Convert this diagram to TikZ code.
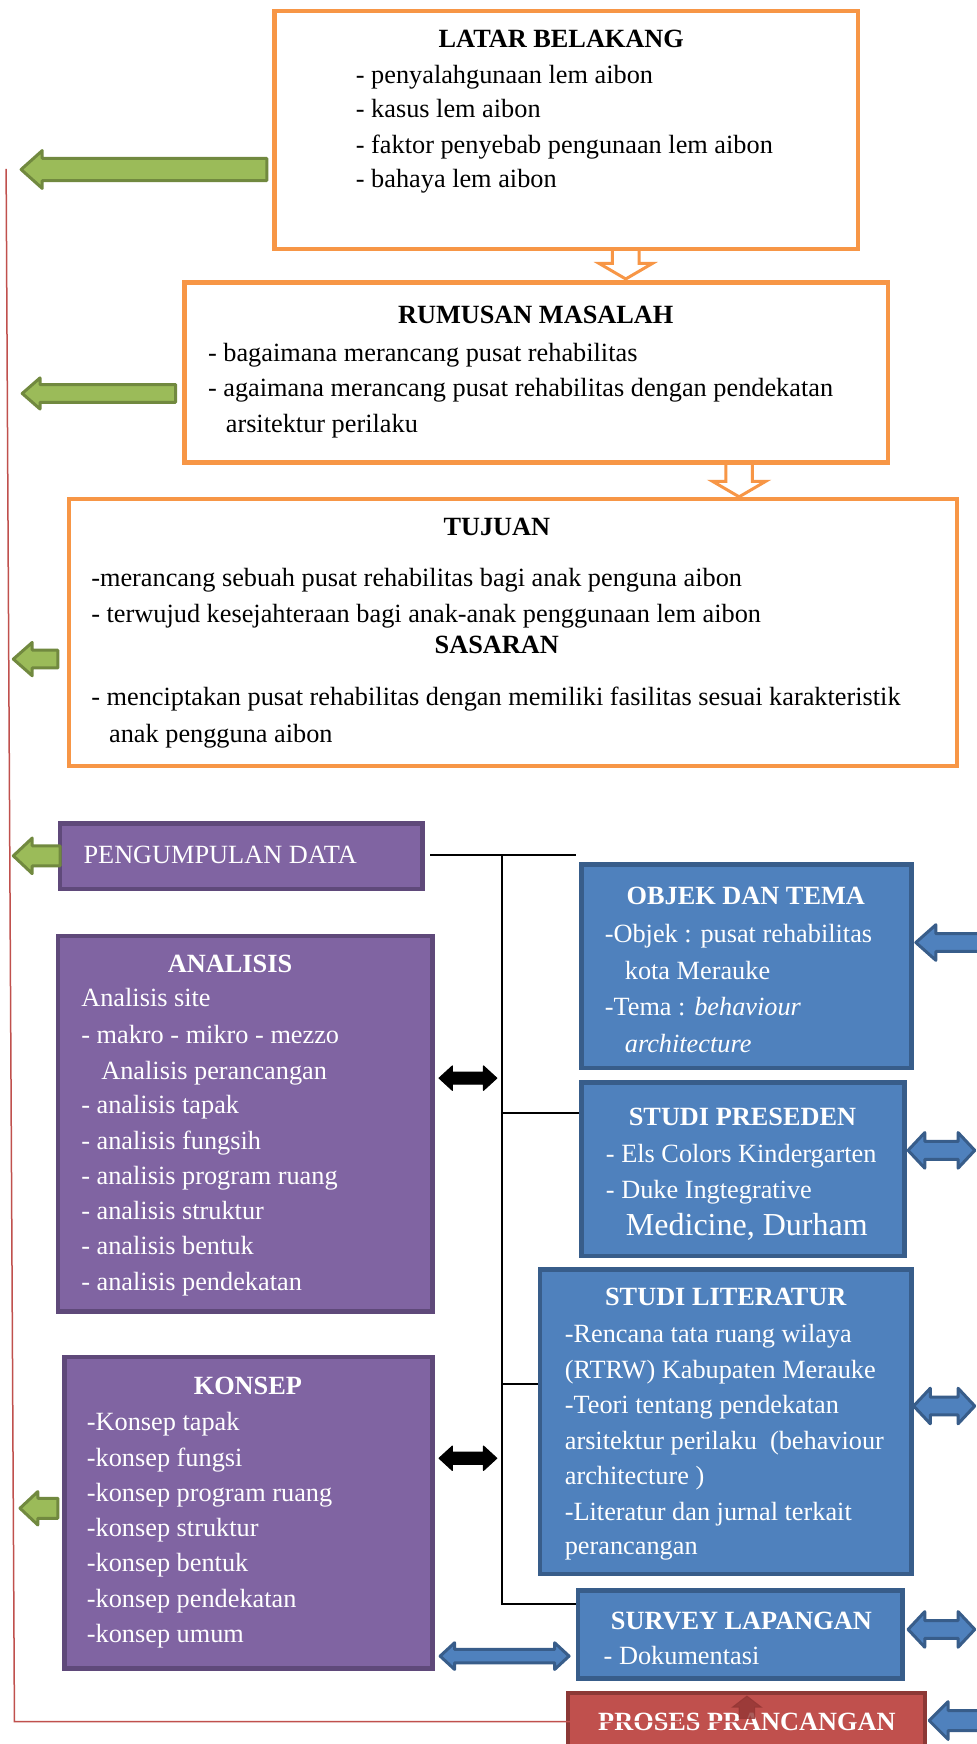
\documentclass[tikz,border=0pt]{standalone}
\usepackage{fontspec}
\setmainfont{Liberation Serif}
\usetikzlibrary{fit}
\definecolor{orgB}{HTML}{F79646}
\definecolor{purF}{HTML}{8064A2}
\definecolor{purB}{HTML}{5F497A}
\definecolor{bluF}{HTML}{4F81BD}
\definecolor{bluB}{HTML}{385D8A}
\definecolor{redF}{HTML}{C0504D}
\definecolor{redB}{HTML}{8C3836}
\definecolor{grnF}{HTML}{9BBB59}
\definecolor{grnB}{HTML}{71893F}
\definecolor{hseF}{HTML}{943634}
% left arrow: style, tipx, tailx, y, headhalf, shafthalf, headlen
\newcommand\LArr[7]{\filldraw[#1] (#2,#4) -- ({#2+#7},{#4-#5}) -- ({#2+#7},{#4-#6}) -- (#3,{#4-#6}) -- (#3,{#4+#6}) -- ({#2+#7},{#4+#6}) -- ({#2+#7},{#4+#5}) -- cycle;}
% double arrow: style, x1, x2, y, headhalf, shafthalf, headlen
\newcommand\DArr[7]{\filldraw[#1] (#2,#4) -- ({#2+#7},{#4-#5}) -- ({#2+#7},{#4-#6}) -- ({#3-#7},{#4-#6}) -- ({#3-#7},{#4-#5}) -- (#3,#4) -- ({#3-#7},{#4+#5}) -- ({#3-#7},{#4+#6}) -- ({#2+#7},{#4+#6}) -- ({#2+#7},{#4+#5}) -- cycle;}
% down arrow: style, x, top, bottom, headhalf, shafthalf, headstart
\newcommand\DnArr[7]{\filldraw[#1] ({#2-#6},#3) -- ({#2+#6},#3) -- ({#2+#6},#7) -- ({#2+#5},#7) -- (#2,#4) -- ({#2-#5},#7) -- ({#2-#6},#7) -- cycle;}
% up arrow: style, x, top, bottom, headhalf, shafthalf, headend
\newcommand\UpArr[7]{\filldraw[#1] (#2,#3) -- ({#2+#5},#7) -- ({#2+#6},#7) -- ({#2+#6},#4) -- ({#2-#6},#4) -- ({#2-#6},#7) -- ({#2-#5},#7) -- cycle;}
\begin{document}
\begin{tikzpicture}[x=1.1115pt,y=-1.1115pt,
  font=\fontsize{26.3}{30}\selectfont,
  ob/.style={draw=orgB,line width=4.5pt,fill=white,inner sep=0pt},
  pb/.style={draw=purB,fill=purF,line width=4.5pt,inner sep=0pt},
  bb/.style={draw=bluB,fill=bluF,line width=4.5pt,inner sep=0pt},
  rb/.style={draw=redB,fill=redF,line width=4.5pt,inner sep=0pt},
  tx/.style={anchor=base west,inner sep=0pt},
  ttl/.style={anchor=base,inner sep=0pt,font=\fontsize{26.3}{30}\selectfont\bfseries},
  wt/.style={text=white},
  conn/.style={draw=black,line width=2pt},
  grn/.style={fill=grnF,draw=grnB,line width=3pt,line join=round},
  blk/.style={fill=black,draw=black,line width=1pt,line join=round},
  blu/.style={fill=bluF,draw=bluB,line width=3pt,line join=round},
  oarr/.style={fill=white,draw=orgB,line width=3pt,line join=miter},
  redline/.style={draw=redF,line width=1.5pt}]
\clip (0,0) rectangle (879,1569.1);
\fill[white] (0,0) rectangle (879,1569.1);

% ---------- orange down arrows ----------
\DnArr{oarr}{563}{224}{251}{24}{12}{237}
\DnArr{oarr}{665}{417}{447}{24}{12}{433}

% ---------- orange boxes ----------
\node[ob,fit={(247,10) (772,224)}] (lb) {};
\node[ttl] (lbT) at (505,43) {LATAR BELAKANG};
\node[tx] (lb1) at (320,75) {- penyalahgunaan lem aibon};
\node[tx] (lb2) at (320,106) {- kasus lem aibon};
\node[tx] (lb3) at (320,138) {- faktor penyebab pengunaan lem aibon};
\node[tx] (lb4) at (320,169) {- bahaya lem aibon};

\node[ob,fit={(166,254) (799,416)}] (rm) {};
\node[ttl] (rmT) at (482,291) {RUMUSAN MASALAH};
\node[tx] (rm1) at (187,325) {- bagaimana merancang pusat rehabilitas};
\node[tx] (rm2) at (187,357) {- agaimana merancang pusat rehabilitas dengan pendekatan};
\node[tx] (rm3) at (203,389) {arsitektur perilaku};

\node[ob,fit={(62,449) (861,689)}] (tj) {};
\node[ttl] (tjT) at (447,482) {TUJUAN};
\node[tx] (tj1) at (82,528) {-merancang sebuah pusat rehabilitas bagi anak penguna aibon};
\node[tx] (tj2) at (82,560) {- terwujud kesejahteraan bagi anak-anak penggunaan lem aibon};
\node[ttl] (ssT) at (447,588) {SASARAN};
\node[tx] (ss1) at (82,635) {- menciptakan pusat rehabilitas dengan memiliki fasilitas sesuai karakteristik};
\node[tx] (ss2) at (98,668) {anak pengguna aibon};

% ---------- purple boxes ----------
\node[pb,fit={(54,741) (380,800)}] (pd) {};
\node[tx,wt] (pdT) at (75,777) {PENGUMPULAN DATA};

\node[pb,fit={(52,842) (389,1180)}] (an) {};
\node[ttl,wt] (anT) at (207,875) {ANALISIS};
\node[tx,wt] (an1) at (73,906) {Analisis site};
\node[tx,wt] (an2) at (73,939) {- makro - mikro - mezzo};
\node[tx,wt] (an3) at (91,971) {Analisis perancangan};
\node[tx,wt] (an4) at (73,1002) {- analisis tapak};
\node[tx,wt] (an5) at (73,1034) {- analisis fungsih};
\node[tx,wt] (an6) at (73,1066) {- analisis program ruang};
\node[tx,wt] (an7) at (73,1097) {- analisis struktur};
\node[tx,wt] (an8) at (73,1129) {- analisis bentuk};
\node[tx,wt] (an9) at (73,1161) {- analisis pendekatan};

\node[pb,fit={(58,1221) (389,1501)}] (ks) {};
\node[ttl,wt] (ksT) at (223,1255) {KONSEP};
\node[tx,wt] (ks1) at (78,1287) {-Konsep tapak};
\node[tx,wt] (ks2) at (78,1319) {-konsep fungsi};
\node[tx,wt] (ks3) at (78,1351) {-konsep program ruang};
\node[tx,wt] (ks4) at (78,1382) {-konsep struktur};
\node[tx,wt] (ks5) at (78,1414) {-konsep bentuk};
\node[tx,wt] (ks6) at (78,1446) {-konsep pendekatan};
\node[tx,wt] (ks7) at (78,1478) {-konsep umum};

% ---------- blue boxes ----------
\node[bb,fit={(523,778) (820,961)}] (ob) {};
\node[ttl,wt] (obT) at (671,814) {OBJEK DAN TEMA};
\node[tx,wt] (ob1) at (544,848) {-Objek : pusat rehabilitas};
\node[tx,wt] (ob2) at (562,881) {kota Merauke};
\node[tx,wt] (ob3) at (544,914) {-Tema : \textit{behaviour}};
\node[tx,wt] (ob4) at (562,947) {\textit{architecture}};

\node[bb,fit={(523,974) (814,1130)}] (sp) {};
\node[ttl,wt] (spT) at (668,1013) {STUDI PRESEDEN};
\node[tx,wt] (sp1) at (545,1046) {- Els Colors Kindergarten};
\node[tx,wt] (sp2) at (545,1078) {- Duke Ingtegrative};
\node[tx,wt,font=\fontsize{32}{36}\selectfont] (sp3) at (563,1112) {Medicine, Durham};

\node[bb,fit={(486,1142) (820,1416)}] (sl) {};
\node[ttl,wt] (slT) at (653,1175) {STUDI LITERATUR};
\node[tx,wt] (sl1) at (508,1208) {-Rencana tata ruang wilaya};
\node[tx,wt] (sl2) at (508,1240) {(RTRW) Kabupaten Merauke};
\node[tx,wt] (sl3) at (508,1272) {-Teori tentang pendekatan};
\node[tx,wt] (sl4) at (508,1304) {arsitektur perilaku\ \ (behaviour};
\node[tx,wt] (sl5) at (508,1336) {architecture )};
\node[tx,wt] (sl6) at (508,1368) {-Literatur dan jurnal terkait};
\node[tx,wt] (sl7) at (508,1399) {perancangan};

\node[bb,fit={(520,1431) (812,1510)}] (sv) {};
\node[ttl,wt] (svT) at (667,1466) {SURVEY LAPANGAN};
\node[tx,wt] (sv1) at (543,1498) {- Dokumentasi};

% ---------- red box ----------
\node[rb,fit={(511,1523) (832,1600)}] (pp) {};
\node[ttl,wt] (ppT) at (672,1557) {PROSES PRANCANGAN};

% ---------- connectors ----------
\coordinate (c0) at (387,769);
\coordinate (c1) at (518,769);
\coordinate (vt) at (452,769);
\coordinate (vb) at (452,1443);
\draw[conn] (c0) -- (c1);
\draw[conn] (vt) -- (vb) -- (vb -| sv.west);
\draw[conn] (452,1001) -- (452,1001 -| sp.west);
\draw[conn] (452,1245) -- (452,1245 -| sl.west);

% red feedback line
\coordinate (r0) at (5.5,152);
\coordinate (r1) at (13,1549);
\coordinate (r2) at (665,1549);
\draw[redline] (r0) -- (r1) -- (r2);
\UpArr{fill=hseF,draw=hseF,fill opacity=0.8,draw opacity=0.8,line width=1pt}{672}{1526}{1546}{13}{7}{1536}

% ---------- green arrows ----------
\LArr{grn}{19}{240}{152.5}{17}{10}{19}
\LArr{grn}{20}{158}{354}{14}{8}{16}
\LArr{grn}{12}{52}{593}{15}{8}{17}
\LArr{grn}{12}{54}{770}{16}{9}{17}
\LArr{grn}{18}{52}{1357}{15}{9}{16}

% ---------- black double arrows ----------
\DArr{blk}{395}{447}{970}{11}{5.5}{12}
\DArr{blk}{395}{447}{1312}{11}{5.5}{12}

% ---------- blue arrows ----------
\DArr{blu}{396}{512}{1490}{12}{6}{13}
\LArr{blu}{824}{895}{848}{16}{8}{18}
\DArr{blu}{817}{877}{1035}{16}{8}{15}
\DArr{blu}{822}{877}{1265}{16}{8}{15}
\DArr{blu}{817}{877}{1466}{16}{8}{15}
\LArr{blu}{836}{895}{1548}{17}{9}{17}
\end{tikzpicture}
\end{document}
